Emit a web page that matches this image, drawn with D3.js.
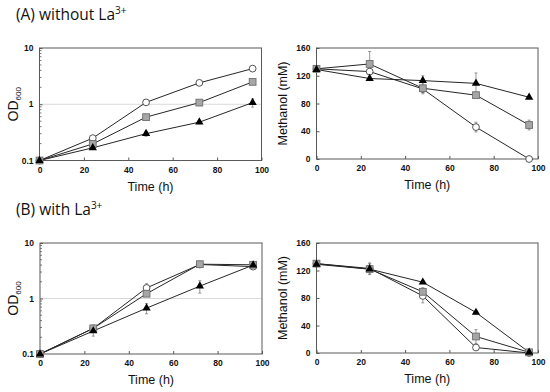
<!DOCTYPE html>
<html>
<head>
<meta charset="utf-8">
<script src="https://cdn.jsdelivr.net/npm/d3@7"></script>
<style>
  body { margin: 0; background: #fff; }
  svg { display: block; }
  .tick text { font-family: "Liberation Sans", Arial, sans-serif; font-weight: bold; font-size: 8.5px; fill: #111; }
  .axis-title { font-family: "Liberation Sans", Arial, sans-serif; font-size: 12.5px; fill: #111; }
  .panel-title { font-family: "Open Sans", "Noto Sans", sans-serif; font-size: 15.5px; fill: #111; }
</style>
</head>
<body>
<div id="chart"></div>
<script>
// Sampling times (h)
const hours = [0, 24, 48, 72, 96];

// (A) without La3+ : OD600
const odNoLaCircle = [0.1, 0.25, 1.08, 2.4, 4.3];
const odNoLaCircleErr = [0, 0.02, 0.06, 0.1, 0.2];
const odNoLaSquare = [0.1, 0.197, 0.59, 1.07, 2.5];
const odNoLaSquareErr = [0, 0.01, 0.04, 0.06, 0.25];
const odNoLaTriangle = [0.1, 0.168, 0.3, 0.48, 1.07];
const odNoLaTriangleErr = [0, 0.01, 0.03, 0.03, 0.18];

// (A) without La3+ : methanol (mM)
const meohNoLaCircle = [130, 126, 101, 46, 0];
const meohNoLaCircleErr = [2, 4, 5, 7, 1];
const meohNoLaSquare = [130, 137, 102, 92, 49];
const meohNoLaSquareErr = [2, 18, 8, 4, 7];
const meohNoLaTriangle = [129, 116, 113, 109, 89];
const meohNoLaTriangleErr = [2, 3, 7, 15, 2];

// (B) with La3+ : OD600
const odLaCircle = [0.1, 0.29, 1.55, 4.1, 3.75];
const odLaCircleErr = [0, 0.03, 0.3, 0.2, 0.2];
const odLaSquare = [0.1, 0.29, 1.22, 4.15, 4.05];
const odLaSquareErr = [0, 0.03, 0.12, 0.2, 0.2];
const odLaTriangle = [0.1, 0.26, 0.67, 1.67, 4.0];
const odLaTriangleErr = [0, 0.05, 0.14, 0.42, 0.3];

// (B) with La3+ : methanol (mM)
const meohLaCircle = [130, 123, 83, 8, 0];
const meohLaCircleErr = [2, 8, 10, 2, 1];
const meohLaSquare = [130, 122, 89, 24, 1];
const meohLaSquareErr = [2, 8, 6, 10, 1];
const meohLaTriangle = [129, 122, 103, 59, 1];
const meohLaTriangleErr = [2, 3, 2, 2, 1];

// Axis ticks
const timeTicks = [0, 20, 40, 60, 80, 100];
const odTicks = [0.1, 1, 10];
const meohTicks = [0, 40, 80, 120, 160];

const W = 550, H = 392;
const svg = d3.select('#chart').append('svg').attr('width', W).attr('height', H);

function addTitle(x, y, label) {
  const t = svg.append('text').attr('class', 'panel-title').attr('x', x).attr('y', y);
  t.append('tspan').text(label + ' La');
  t.append('tspan').attr('dy', -6).style('font-size', '10px').text('3+');
}

addTitle(16, 20, '(A) without');
addTitle(16, 215, '(B) with');

function drawPanel(box, isLog, series) {
  const x = d3.scaleLinear().domain([0, 100]).range([box.x0, box.x1]);
  const y = isLog
    ? d3.scaleLog().domain([0.1, 10]).range([box.y1, box.y0])
    : d3.scaleLinear().domain([0, 160]).range([box.y1, box.y0]);

  const g = svg.append('g');

  // gridline at 1 on log panels
  if (isLog) {
    g.append('line')
      .attr('x1', box.x0).attr('x2', box.x1)
      .attr('y1', y(1)).attr('y2', y(1))
      .attr('stroke', '#d9d9d9').attr('stroke-width', 1);
  }

  // plot frame
  g.append('rect')
    .attr('x', box.x0).attr('y', box.y0)
    .attr('width', box.x1 - box.x0).attr('height', box.y1 - box.y0)
    .attr('fill', 'none').attr('stroke', '#595959').attr('stroke-width', 1);

  // x axis
  const xAxis = g.append('g')
    .attr('transform', `translate(0,${box.y1})`)
    .call(d3.axisBottom(x).tickValues(timeTicks).tickSizeInner(-3).tickSizeOuter(0).tickPadding(6));
  xAxis.select('.domain').remove();
  xAxis.selectAll('.tick line').attr('stroke', '#595959');

  // y axis
  const yAxis = g.append('g')
    .attr('transform', `translate(${box.x0},0)`)
    .call(d3.axisLeft(y).tickValues(isLog ? odTicks : meohTicks)
      .tickFormat(isLog ? d3.format('') : d3.format('d'))
      .tickSizeInner(-3).tickSizeOuter(0).tickPadding(6));
  yAxis.select('.domain').remove();
  yAxis.selectAll('.tick line').attr('stroke', '#595959');

  if (isLog) {
    // minor ticks
    const minor = [];
    [0.1, 1].forEach(dec => { for (let k = 2; k <= 9; k++) minor.push(dec * k); });
    g.selectAll('.minor').data(minor).join('line')
      .attr('x1', box.x0).attr('x2', box.x0 + 2)
      .attr('y1', d => y(d)).attr('y2', d => y(d))
      .attr('stroke', '#595959').attr('stroke-width', 0.8);
  }

  // axis titles
  g.append('text').attr('class', 'axis-title')
    .attr('x', (box.x0 + box.x1) / 2).attr('y', box.y1 + 30)
    .attr('text-anchor', 'middle').text('Time (h)');

  const yt = g.append('text').attr('class', 'axis-title')
    .attr('transform', `translate(${box.x0 - (isLog ? 22 : 30)},${(box.y0 + box.y1) / 2}) rotate(-90)`)
    .attr('text-anchor', 'middle');
  if (isLog) {
    yt.append('tspan').style('font-size', '14px').text('OD');
    yt.append('tspan').attr('dy', 3).style('font-size', '8px').text('600');
  } else {
    yt.text('Methanol (mM)');
  }

  const line = d3.line().x((d, i) => x(hours[i])).y(d => y(d));

  // lines
  series.forEach(s => {
    g.append('path').datum(s.values)
      .attr('d', line).attr('fill', 'none')
      .attr('stroke', '#262626').attr('stroke-width', 1);
  });

  // error bars
  series.forEach(s => {
    const eb = g.append('g').attr('stroke', '#7f7f7f').attr('stroke-width', 0.8);
    s.values.forEach((v, i) => {
      const e = s.err[i];
      if (!e) return;
      const lo = isLog ? Math.max(v - e, 0.1) : Math.max(v - e, 0);
      const hi = v + e;
      const cx = x(hours[i]);
      eb.append('line').attr('x1', cx).attr('x2', cx).attr('y1', y(lo)).attr('y2', y(hi));
      eb.append('line').attr('x1', cx - 1.5).attr('x2', cx + 1.5).attr('y1', y(hi)).attr('y2', y(hi));
      eb.append('line').attr('x1', cx - 1.5).attr('x2', cx + 1.5).attr('y1', y(lo)).attr('y2', y(lo));
    });
  });

  // markers
  series.forEach(s => {
    const pts = s.values.map((v, i) => [x(hours[i]), y(v)]);
    if (s.shape === 'circle') {
      g.selectAll(null).data(pts).join('circle')
        .attr('cx', d => d[0]).attr('cy', d => d[1]).attr('r', 3.4)
        .attr('fill', '#fff').attr('stroke', '#404040').attr('stroke-width', 0.9);
    } else if (s.shape === 'square') {
      g.selectAll(null).data(pts).join('rect')
        .attr('x', d => d[0] - 3.4).attr('y', d => d[1] - 3.4)
        .attr('width', 6.8).attr('height', 6.8)
        .attr('fill', '#a6a6a6').attr('stroke', '#6e6e6e').attr('stroke-width', 0.9);
    } else {
      const tri = d3.symbol().type(d3.symbolTriangle).size(30);
      g.selectAll(null).data(pts).join('path')
        .attr('d', tri)
        .attr('transform', d => `translate(${d[0]},${d[1]})`)
        .attr('fill', '#000');
    }
  });
}

drawPanel({ x0: 39.5, x1: 261.5, y0: 48, y1: 160.5 }, true, [
  { shape: 'circle', values: odNoLaCircle, err: odNoLaCircleErr },
  { shape: 'square', values: odNoLaSquare, err: odNoLaSquareErr },
  { shape: 'triangle', values: odNoLaTriangle, err: odNoLaTriangleErr }
]);

drawPanel({ x0: 316.5, x1: 538, y0: 48, y1: 159 }, false, [
  { shape: 'circle', values: meohNoLaCircle, err: meohNoLaCircleErr },
  { shape: 'square', values: meohNoLaSquare, err: meohNoLaSquareErr },
  { shape: 'triangle', values: meohNoLaTriangle, err: meohNoLaTriangleErr }
]);

drawPanel({ x0: 40, x1: 262, y0: 243, y1: 354 }, true, [
  { shape: 'circle', values: odLaCircle, err: odLaCircleErr },
  { shape: 'square', values: odLaSquare, err: odLaSquareErr },
  { shape: 'triangle', values: odLaTriangle, err: odLaTriangleErr }
]);

drawPanel({ x0: 316.5, x1: 538, y0: 243, y1: 353 }, false, [
  { shape: 'circle', values: meohLaCircle, err: meohLaCircleErr },
  { shape: 'square', values: meohLaSquare, err: meohLaSquareErr },
  { shape: 'triangle', values: meohLaTriangle, err: meohLaTriangleErr }
]);
</script>
</body>
</html>
